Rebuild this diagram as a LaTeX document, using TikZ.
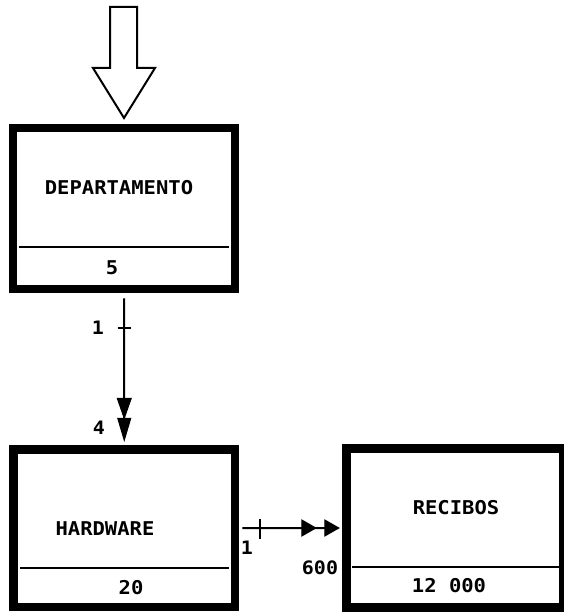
\documentclass[tikz,border=0pt]{standalone}
\usepackage{fontspec}
\newfontfamily\plotfont{DejaVu Sans Mono}[FakeStretch=1.08]
\tikzset{
  entity/.style={draw=black, line width=8.5pt, rectangle, inner sep=0pt, outer sep=0.5\pgflinewidth},
  lbl/.style={font=\plotfont\bfseries\fontsize{19pt}{20pt}\selectfont, inner sep=0pt, anchor=center},
  small/.style={font=\plotfont\bfseries\fontsize{18.5pt}{19pt}\selectfont, inner sep=0pt, anchor=center},
  divider/.style={line width=2pt},
  conn/.style={line width=2pt},
  head/.style={fill=black, draw=black, line width=1pt, line join=miter}
}
\begin{document}
\begin{tikzpicture}[x=1pt,y=-1pt]
\useasboundingbox (0,0) rectangle (563,612);
% boxes
\node[entity, minimum width=222pt, minimum height=161pt] (dep) at (124,208.5) {};
\node[entity, minimum width=221.5pt, minimum height=157.5pt] (hw) at (124.25,528.25) {};
\node[entity, minimum width=217pt, minimum height=159pt] (rec) at (455,528) {};
% dividers
\draw[divider] (19,247) -- (229,247);
\draw[divider] (20,568) -- (229,568);
\draw[divider] (352,567) -- (559,567);
% texts
\node[lbl] (depname) at (119,188) {DEPARTAMENTO};
\node[lbl] (depnum) at (112,268) {5};
\node[lbl] (hwname) at (105,529) {HARDWARE};
\node[lbl] (hwnum) at (131,588) {20};
\node[lbl] (recname) at (456,508) {RECIBOS};
\node[lbl] (recnum) at (449,586) {12 000};
% big entry arrow
\coordinate (tip) at (124,118);
\draw[line width=2pt, line join=miter, fill=white] (110,7) -- (137,7) -- (137,68) -- (155,68) -- (tip) -- (93,68) -- (110,68) -- cycle;
% vertical connector
\draw[conn, shorten <=5pt, shorten >=25pt] (dep.south) -- (hw.north);
\coordinate (vt2) at ([yshift=5pt]hw.north);
\coordinate (vt1) at ([yshift=27pt]hw.north);
\fill[head] ([xshift=-7pt,yshift=20pt]vt1) -- ([xshift=7pt,yshift=20pt]vt1) -- (vt1) -- cycle;
\fill[head] ([xshift=-6.5pt,yshift=22pt]vt2) -- ([xshift=6.5pt,yshift=22pt]vt2) -- (vt2) -- cycle;
\coordinate (t1) at (124,328);
\draw[conn] ([xshift=-6.5pt]t1) -- ([xshift=6.5pt]t1);
\node[small] (c1) at (98,328) {1};
\node[small] (c4) at (99,428) {4};
% horizontal connector
\draw[conn, shorten <=3pt, shorten >=4pt] (hw.east) -- (rec.west);
\coordinate (ht2) at ([xshift=-3.5pt]rec.west);
\coordinate (ht1) at ([xshift=-26.5pt]rec.west);
\fill[head] ([xshift=-14pt,yshift=-8pt]ht1) -- ([xshift=-14pt,yshift=8pt]ht1) -- (ht1) -- cycle;
\fill[head] ([xshift=-14pt,yshift=-8pt]ht2) -- ([xshift=-14pt,yshift=8pt]ht2) -- (ht2) -- cycle;
\coordinate (t2) at (260,528.5);
\draw[conn] ([yshift=-10pt]t2) -- ([yshift=10pt]t2);
\node[small] (c1b) at (247,548) {1};
\node[small] (c600) at (320,568) {600};
\end{tikzpicture}
\end{document}
